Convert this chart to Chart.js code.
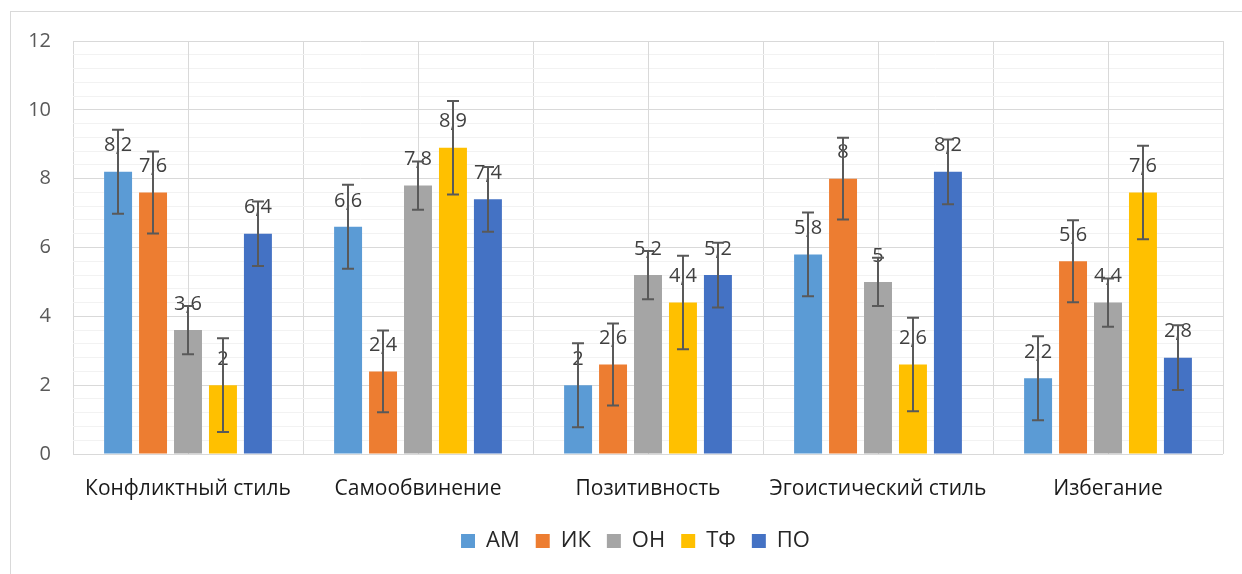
<!DOCTYPE html>
<html>
<head>
<meta charset="utf-8">
<script src="https://cdn.jsdelivr.net/npm/chart.js@4"></script>
<style>
  html, body { margin: 0; padding: 0; background: #fff; }
  #wrap { width: 1242px; height: 574px; }
</style>
</head>
<body>
<div id="wrap"><canvas id="c"></canvas></div>
<script>
// data
const categories = ["Конфликтный стиль", "Самообвинение", "Позитивность", "Эгоистический стиль", "Избегание"];
const seriesNames = ["АМ", "ИК", "ОН", "ТФ", "ПО"];
const amValues = [8.2, 6.6, 2, 5.8, 2.2];
const ikValues = [7.6, 2.4, 2.6, 8, 5.6];
const onValues = [3.6, 7.8, 5.2, 5, 4.4];
const tfValues = [2, 8.9, 4.4, 2.6, 7.6];
const poValues = [6.4, 7.4, 5.2, 8.2, 2.8];
// error bar half-widths (same for every category of a series)
const amErr = [1.22, 1.22, 1.22, 1.22, 1.22];
const ikErr = [1.19, 1.19, 1.19, 1.19, 1.19];
const onErr = [0.7, 0.7, 0.7, 0.7, 0.7];
const tfErr = [1.36, 1.36, 1.36, 1.36, 1.36];
const poErr = [0.94, 0.94, 0.94, 0.94, 0.94];
const yTicks = [0, 2, 4, 6, 8, 10, 12];

const colors = ["#5b9bd5", "#ed7d31", "#a5a5a5", "#ffc000", "#4472c4"];
const allValues = [amValues, ikValues, onValues, tfValues, poValues];
const allErr = [amErr, ikErr, onErr, tfErr, poErr];
const FONT = "'Open Sans', 'Liberation Sans', sans-serif";

const isMajor = v => yTicks.some(t => Math.abs(t - v) < 1e-6);

// outer frame + mid-category vertical lines, legend nudge
const framePlugin = {
    id: "frame",
    afterLayout(chart) {
        if (chart.legend) {
            chart.legend.left += 24;
            chart.legend.right += 24;
        }
    },
    beforeDatasetsDraw(chart) {
        const ctx = chart.ctx, x = chart.scales.x, a = chart.chartArea;
        ctx.save();
        ctx.strokeStyle = "#d9d9d9";
        ctx.lineWidth = 1;
        for (let i = 0; i < categories.length; i++) {
            const px = Math.round(x.getPixelForValue(i)) + 0.5;
            ctx.beginPath();
            ctx.moveTo(px, a.top);
            ctx.lineTo(px, a.bottom);
            ctx.stroke();
        }
        ctx.restore();
    },
    afterDraw(chart) {
        const ctx = chart.ctx;
        ctx.save();
        ctx.strokeStyle = "#d9d9d9";
        ctx.lineWidth = 1;
        ctx.strokeRect(10.5, 11.5, 1400, 800);
        ctx.restore();
    }
};

// value labels and error bars
const errorPlugin = {
    id: "errbars",
    afterDatasetsDraw(chart) {
        const ctx = chart.ctx, y = chart.scales.y;
        ctx.save();
        ctx.font = "20px " + FONT;
        ctx.fillStyle = "#404040";
        ctx.textAlign = "center";
        ctx.textBaseline = "middle";
        chart.data.datasets.forEach((ds, di) => {
            chart.getDatasetMeta(di).data.forEach((bar, i) => {
                ctx.fillText(String(ds.data[i]).replace(".", ","), bar.x, bar.y - 26);
            });
        });
        ctx.strokeStyle = "#595959";
        ctx.lineWidth = 2;
        chart.data.datasets.forEach((ds, di) => {
            chart.getDatasetMeta(di).data.forEach((bar, i) => {
                const v = ds.data[i], e = allErr[di][i];
                const top = y.getPixelForValue(v + e), bot = y.getPixelForValue(v - e);
                const bx = Math.round(bar.x);
                ctx.beginPath();
                ctx.moveTo(bx, top); ctx.lineTo(bx, bot);
                ctx.moveTo(bx - 6, top); ctx.lineTo(bx + 6, top);
                ctx.moveTo(bx - 6, bot); ctx.lineTo(bx + 6, bot);
                ctx.stroke();
            });
        });
        ctx.restore();
    }
};

new Chart(document.getElementById("c"), {
    type: "bar",
    data: {
        labels: categories,
        datasets: seriesNames.map((name, i) => ({
            label: name,
            data: allValues[i],
            backgroundColor: colors[i],
            categoryPercentage: 0.76,
            barPercentage: 0.8
        }))
    },
    options: {
        responsive: true,
        maintainAspectRatio: false,
        animation: false,
        layout: { padding: { left: 0, top: 41, right: 19, bottom: 12 } },
        plugins: {
            legend: {
                position: "bottom",
                labels: {
                    color: "#262626",
                    font: { family: FONT, size: 22 },
                    boxWidth: 14,
                    boxHeight: 14,
                    padding: 16
                }
            },
            tooltip: { enabled: false }
        },
        scales: {
            x: {
                grid: { color: "#d9d9d9", drawTicks: false, offset: true },
                border: { display: false },
                ticks: { color: "#1a1a1a", font: { family: FONT, size: 21 }, padding: 22 },
                afterFit(scale) { scale.height = 60; }
            },
            y: {
                min: 0,
                max: 12,
                grid: {
                    drawTicks: false,
                    color: c => isMajor(c.tick.value) ? "#d9d9d9" : "#f2f2f2"
                },
                border: { display: false },
                ticks: {
                    stepSize: 0.4,
                    autoSkip: false,
                    color: "#595959",
                    font: { family: FONT, size: 20 },
                    padding: 22,
                    callback: v => isMajor(v) ? String(Math.round(v)) : ""
                },
                afterFit(scale) { scale.width = 73; }
            }
        }
    },
    plugins: [framePlugin, errorPlugin]
});
</script>
</body>
</html>
